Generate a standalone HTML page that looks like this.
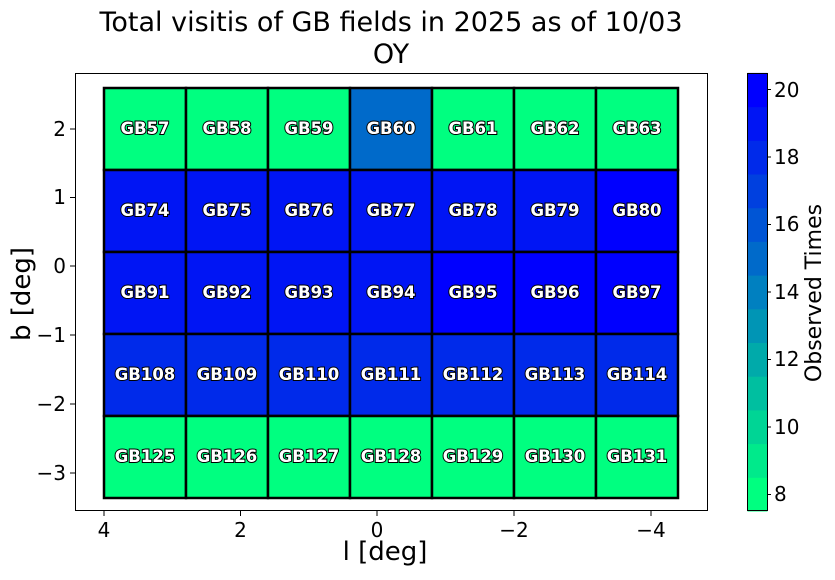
<!DOCTYPE html>
<html><head><style>
body{margin:0;background:#fff}
svg text{font-family:"DejaVu Sans","Liberation Sans",sans-serif}
</style></head><body>
<svg width="835" height="575" xmlns="http://www.w3.org/2000/svg">
<rect width="835" height="575" fill="#fff"/>
<text x="391" y="31" font-size="27" text-anchor="middle">Total visitis of GB fields in 2025 as of 10/03</text>
<text x="391" y="63" font-size="27" text-anchor="middle">OY</text>
<g id="cells" stroke="#000" stroke-width="2.5"></g>
<g id="labels" font-size="16.5" font-weight="bold" fill="#fff" stroke="#000" stroke-width="2" paint-order="stroke" text-anchor="middle"></g>
<rect x="75.5" y="73.5" width="632" height="437" fill="none" stroke="#000" stroke-width="1"/>
<g stroke="#000" stroke-width="1">
<line x1="104" y1="511" x2="104" y2="516"/><line x1="240.5" y1="511" x2="240.5" y2="516"/><line x1="377" y1="511" x2="377" y2="516"/><line x1="514" y1="511" x2="514" y2="516"/><line x1="651" y1="511" x2="651" y2="516"/>
<line x1="70" y1="129" x2="75" y2="129"/><line x1="70" y1="197.5" x2="75" y2="197.5"/><line x1="70" y1="266" x2="75" y2="266"/><line x1="70" y1="335" x2="75" y2="335"/><line x1="70" y1="404" x2="75" y2="404"/><line x1="70" y1="473" x2="75" y2="473"/>
</g>
<g font-size="20" text-anchor="middle">
<text x="104" y="537">4</text><text x="240.5" y="537">2</text><text x="377" y="537">0</text><text x="514" y="537">−2</text><text x="651" y="537">−4</text>
</g>
<g font-size="20" text-anchor="end">
<text x="66" y="136">2</text><text x="66" y="204">1</text><text x="66" y="273">0</text><text x="66" y="342">−1</text><text x="66" y="411">−2</text><text x="66" y="480">−3</text>
</g>
<text x="385" y="560" font-size="26" text-anchor="middle">l [deg]</text>
<text transform="translate(30,294) rotate(-90)" font-size="26" text-anchor="middle">b [deg]</text>
<g id="cbar"></g>
<rect x="747.5" y="73.5" width="20" height="437" fill="none" stroke="#000" stroke-width="1"/>
<g font-size="20">
<text x="774" y="97">20</text><text x="774" y="164">18</text><text x="774" y="231">16</text><text x="774" y="299">14</text><text x="774" y="366">12</text><text x="774" y="434">10</text><text x="774" y="501">8</text>
</g>
<g stroke="#000"><line x1="767" y1="89.5" x2="771" y2="89.5"/><line x1="767" y1="157" x2="771" y2="157"/><line x1="767" y1="224.5" x2="771" y2="224.5"/><line x1="767" y1="292" x2="771" y2="292"/><line x1="767" y1="359.5" x2="771" y2="359.5"/><line x1="767" y1="427" x2="771" y2="427"/><line x1="767" y1="494.5" x2="771" y2="494.5"/></g>
<text transform="translate(821,293) rotate(-90)" font-size="22" text-anchor="middle">Observed Times</text>
</svg>
<script>
function col(v){var t=(v-8)/12;return "rgb(0,"+Math.round(255*(1-t))+","+Math.round(128+127*t)+")";}
var ns="http://www.w3.org/2000/svg";
var rows=[[57,58,59,60,61,62,63],[74,75,76,77,78,79,80],[91,92,93,94,95,96,97],[108,109,110,111,112,113,114],[125,126,127,128,129,130,131]];
var vals=[[8,8,8,15,8,8,8],[19,19,19,19,19,19,20],[19,19,19,19,20,20,20],[18,18,18,18,18,18,18],[8,8,8,8,8,8,8]];
var cg=document.getElementById("cells"),lg=document.getElementById("labels");
for(var r=0;r<5;r++)for(var c=0;c<7;c++){
var x=104+c*82,y=88+r*82;
var e=document.createElementNS(ns,"rect");e.setAttribute("x",x);e.setAttribute("y",y);e.setAttribute("width",82);e.setAttribute("height",82);e.setAttribute("fill",col(vals[r][c]));cg.appendChild(e);
var t=document.createElementNS(ns,"text");t.setAttribute("x",x+41);t.setAttribute("y",y+46);t.textContent="GB"+rows[r][c];lg.appendChild(t);}
var cb=document.getElementById("cbar");
for(var v=8;v<=20;v++){var yy=511-(v+0.5-7.5)*33.7;var e2=document.createElementNS(ns,"rect");e2.setAttribute("x",747.5);e2.setAttribute("y",yy);e2.setAttribute("width",20);e2.setAttribute("height",34.2);e2.setAttribute("fill",col(v));cb.appendChild(e2);}
</script>
</body></html>
